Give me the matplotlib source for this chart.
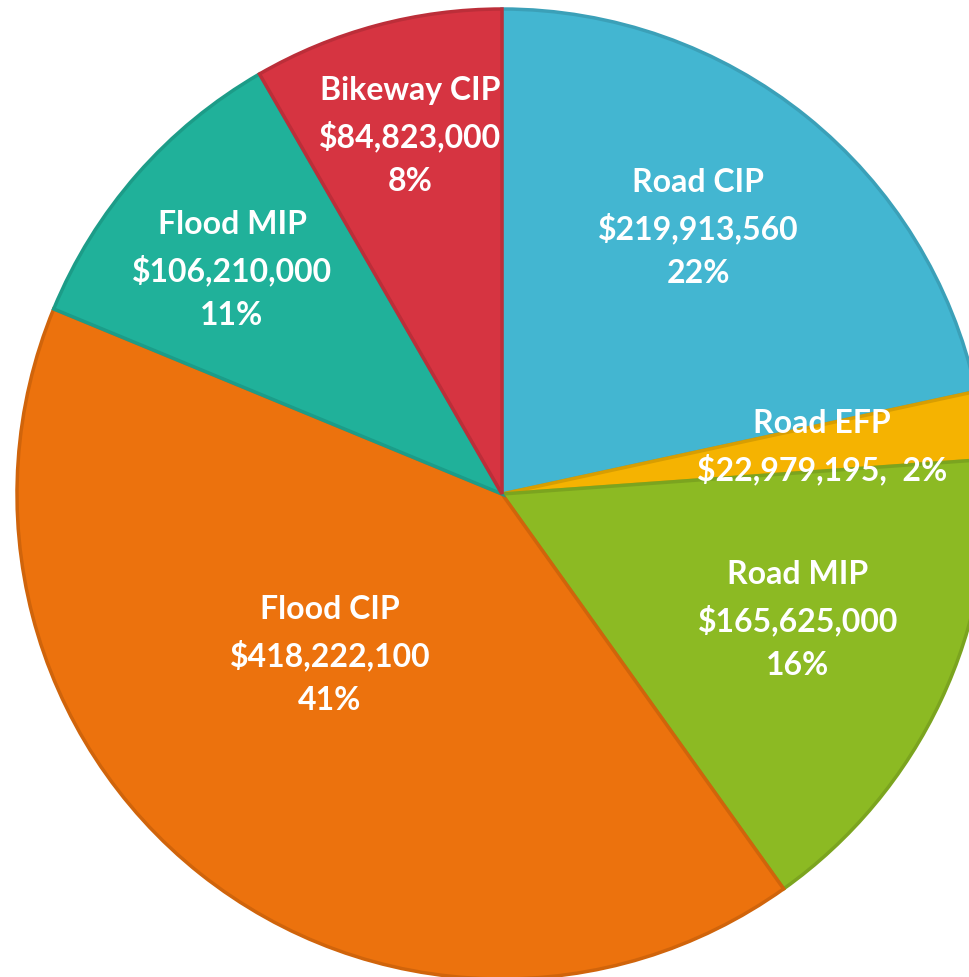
import matplotlib.pyplot as plt
import matplotlib.colors as mcolors

plt.rcParams['font.family'] = ['Lato', 'DejaVu Sans']

# data
categories = ['Road CIP', 'Road EFP', 'Road MIP', 'Flood CIP', 'Flood MIP', 'Bikeway CIP']
amounts = [219913560, 22979195, 165625000, 418222100, 106210000, 84823000]
pct_labels = ['22%', '2%', '16%', '41%', '11%', '8%']
colors = ['#43B6D1', '#F5B301', '#8CBA23', '#EC720D', '#20B19A', '#D63441']

# label centres in pixels (x, y from top)
label_pos = [(698, 228), (822, 447), (798, 620), (330, 655), (232, 270), (410, 136)]

W, H = 970, 977
cx, cy, R = 502, 494, 485

fig = plt.figure(figsize=(W / 100, H / 100), dpi=100)
ax = fig.add_axes([0, 0, 1, 1])

wedges, _ = ax.pie(amounts, colors=colors, startangle=90, counterclock=False,
                   radius=1, center=(0, 0),
                   wedgeprops=dict(linewidth=2.5))
for w, c in zip(wedges, colors):
    w.set_edgecolor(mcolors.to_hex([v * 0.88 for v in mcolors.to_rgb(c)]))

ax.set_xlim(-cx / R, (W - cx) / R)
ax.set_ylim((cy - H) / R, cy / R)
ax.set_aspect('auto')
ax.axis('off')


def px(x, y):
    return (x - cx) / R, (cy - y) / R


for i, name in enumerate(categories):
    money = '${:,}'.format(amounts[i])
    if name == 'Road EFP':
        txt = name + '\n' + money + ',  ' + pct_labels[i]
    else:
        txt = name + '\n' + money + '\n' + pct_labels[i]
    x, y = px(*label_pos[i])
    ax.text(x, y, txt, ha='center', va='center', color='white',
            fontsize=23, fontweight='bold', linespacing=1.6)

fig.savefig('out.png', dpi=100)
